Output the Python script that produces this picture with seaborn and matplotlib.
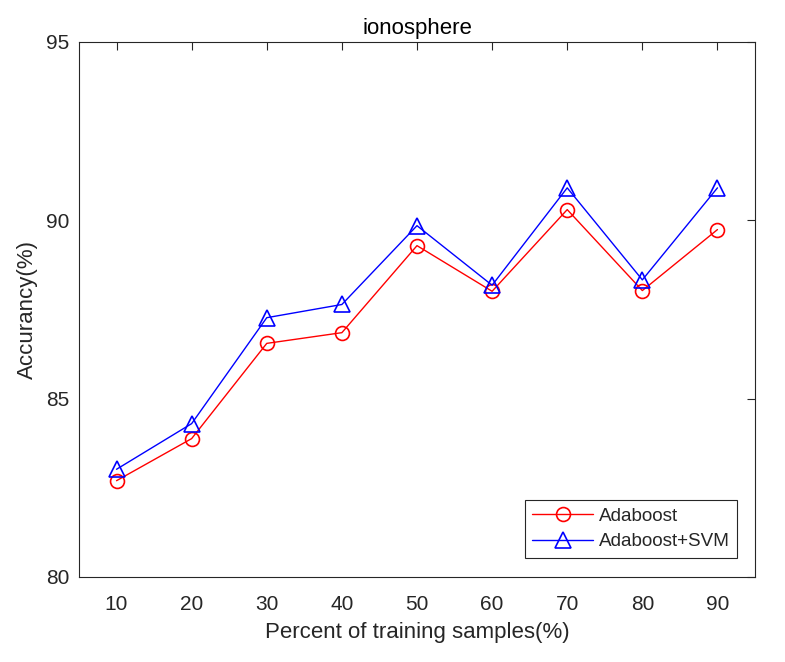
import seaborn as sns
import matplotlib.pyplot as plt
import pandas as pd

# percent of training samples
percent = [10, 20, 30, 40, 50, 60, 70, 80, 90]
# accuracy (%)
adaboost = [82.70, 83.88, 86.55, 86.85, 89.29, 88.01, 90.30, 88.03, 89.74]
adaboost_svm = [83.02, 84.30, 87.27, 87.64, 89.85, 88.18, 90.91, 88.33, 90.91]

df = pd.DataFrame({'percent': percent, 'Adaboost': adaboost, 'Adaboost+SVM': adaboost_svm})

sns.set_style('white')
plt.rcParams['font.family'] = ['Liberation Sans', 'DejaVu Sans']
axis_col = '#262626'

fig = plt.figure(figsize=(7.85, 6.62), dpi=100)
ax = fig.add_axes([0.1006, 0.1284, 0.8612, 0.8082])

sns.lineplot(data=df, x='percent', y='Adaboost', ax=ax, color='red', lw=1,
             marker='o', markersize=10, markerfacecolor='none', markeredgecolor='red',
             markeredgewidth=1.2, label='Adaboost')
sns.lineplot(data=df, x='percent', y='Adaboost+SVM', ax=ax, color='blue', lw=1,
             marker='^', markersize=11, markerfacecolor='none', markeredgecolor='blue',
             markeredgewidth=1.2, label='Adaboost+SVM')

ax.set_xlim(5, 95)
ax.set_ylim(80, 95)
ax.set_xticks(percent)
ax.set_yticks([80, 85, 90, 95])
ax.tick_params(direction='in', top=True, right=True, length=6, width=0.8,
               labelsize=15, colors=axis_col)
ax.tick_params(axis='x', pad=13)
ax.tick_params(axis='y', pad=7)
for s in ax.spines.values():
    s.set_color(axis_col)
    s.set_linewidth(0.8)

ax.set_title('ionosphere', fontsize=16, color='black', pad=6)
ax.set_xlabel('Percent of training samples(%)', fontsize=16, color=axis_col, labelpad=6)
ax.set_ylabel('Accurancy(%)', fontsize=16, color=axis_col, labelpad=6)

leg = ax.legend(loc='lower right', bbox_to_anchor=(0.9734, 0.0355), borderaxespad=0,
                fontsize=13.6, frameon=True, fancybox=False, edgecolor=axis_col,
                framealpha=1, handlelength=3.2, borderpad=0.4, labelspacing=0.45,
                handletextpad=0.3)
leg.get_frame().set_linewidth(0.8)

fig.savefig('out.png', dpi=100)
